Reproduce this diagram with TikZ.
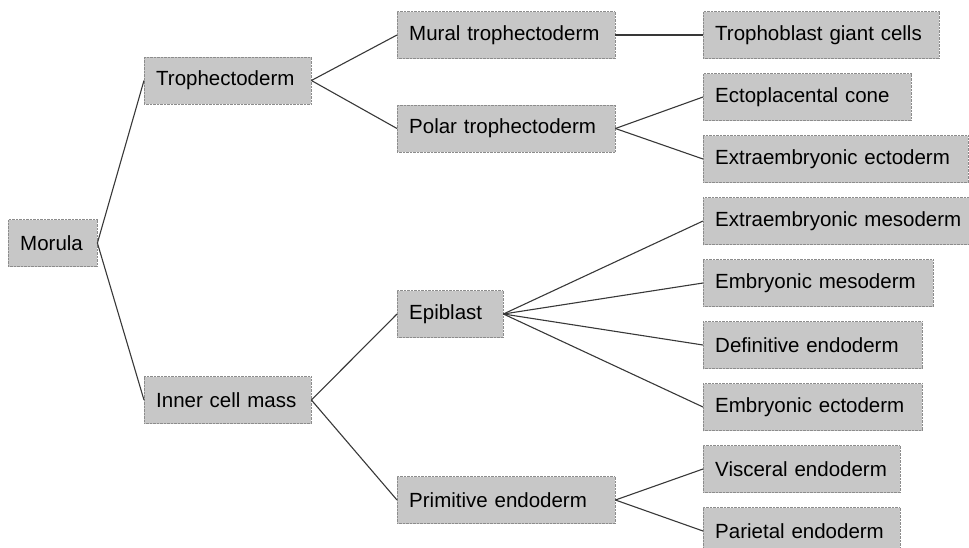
\documentclass[tikz,border=0pt]{standalone}
\usepackage{fontspec}
\setmainfont{Liberation Sans}
\usetikzlibrary{math}

\definecolor{boxfill}{gray}{0.78}
\definecolor{boxedge}{gray}{0.55}
\definecolor{linkgray}{gray}{0.22}

\tikzset{
  cell/.style={draw=boxedge, densely dotted, fill=boxfill, anchor=west,
    minimum height=47pt, inner xsep=12pt, text width=#1, align=left,
    font=\fontsize{20.5}{24}\selectfont},
  link/.style={linkgray, line width=1.1pt}
}

\begin{document}
\begin{tikzpicture}[x=1pt,y=-1pt]
      \tikzmath{
        \xA = 8;
        \xB = 144;
        \xC = 397;
        \xD = 703;
        \yTop = 35;
        \dy = 62;
      }
      \useasboundingbox (0,0) rectangle (969,547);

      \node[cell=65pt] (morula) at (\xA, 243) {Morula};

      \node[cell=143pt] (troph) at (\xB, 80.5) {Trophectoderm};
      \node[cell=143pt] (icm) at (\xB, 400) {Inner cell mass};

      \node[cell=194pt] (mural) at (\xC, 35) {Mural trophectoderm};
      \node[cell=194pt] (polar) at (\xC, 128.5) {Polar trophectoderm};
      \node[cell=82pt] (epi) at (\xC, 314) {Epiblast};
      \node[cell=194pt] (prim) at (\xC, 500) {Primitive endoderm};

      \foreach \name/\txt/\w [count=\i from 0] in {
          giant/Trophoblast giant cells/212,
          ectocone/Ectoplacental cone/184,
          exEcto/Extraembryonic ectoderm/241,
          exMeso/Extraembryonic mesoderm/251,
          emMeso/Embryonic mesoderm/206,
          defEndo/Definitive endoderm/195,
          emEcto/Embryonic ectoderm/195,
          visEndo/Visceral endoderm/173,
          parEndo/Parietal endoderm/173}
        \node[cell=\w pt] (\name) at (\xD, \yTop + \i*\dy) {\txt};

      \foreach \a/\b in {morula/troph, morula/icm, troph/mural, troph/polar,
          icm/epi, icm/prim, mural/giant, polar/ectocone, polar/exEcto,
          epi/exMeso, epi/emMeso, epi/defEndo, epi/emEcto,
          prim/visEndo, prim/parEndo}
        \draw[link] (\a.east) -- (\b.west);

\end{tikzpicture}
\end{document}
